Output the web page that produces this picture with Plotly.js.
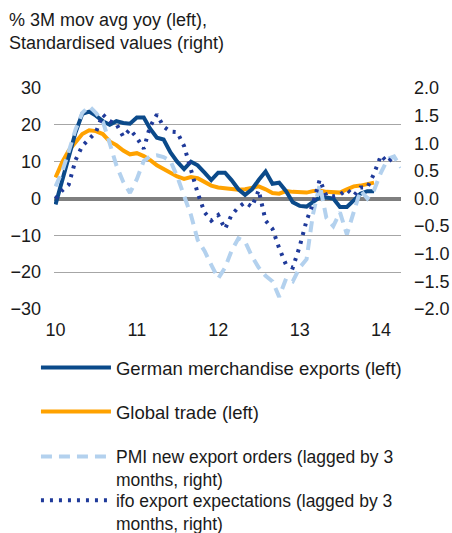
<!DOCTYPE html>
<html>
<head>
<meta charset="utf-8">
<script src="https://cdn.plot.ly/plotly-3.0.1.min.js"></script>
<style>html,body{margin:0;padding:0;background:#fff;}#chart{width:452px;height:533px;}</style>
</head>
<body>
<div id="chart"></div>
<script>
// Monthly observations starting January 2010
var startYear = 2010;
var germanExports = [-1.6, 5, 11, 18, 23, 23.6, 22.5, 21, 20, 21, 20.5, 20.3, 22, 22, 19, 16.5, 16, 12.5, 10, 8, 10, 9, 7, 5, 7, 7, 5, 2.5, 1, 2.5, 5, 7.3, 4, 4.3, 2, -1, -2, -2.2, -1, 0.3, 0.3, 0, -2.3, -2.3, -0.5, 1.3, 2, 2];
var globalTrade = [5.7, 10, 13, 15.5, 17.5, 18.5, 18.3, 17.5, 15.5, 14.5, 13, 12, 12.3, 11.5, 10.5, 9, 8, 7, 6, 5.3, 5.8, 5.5, 4.5, 3.5, 3, 2.8, 2.5, 2.4, 2.5, 3, 3.3, 2.5, 1.5, 1.3, 2, 1.8, 1.6, 1.6, 2, 2.2, 1.8, 1.6, 1.6, 2.5, 3.3, 3.5, 3.8, 4.3];
var pmiOrders = [0.22, 0.5, 0.85, 1.25, 1.55, 1.67, 1.55, 1.4, 1.0, 0.6, 0.3, 0.1, 0.35, 0.68, 0.76, 0.78, 0.75, 0.68, 0.4, 0.05, -0.3, -0.75, -0.95, -1.2, -1.45, -1.25, -0.95, -0.72, -0.78, -1.05, -1.25, -1.4, -1.5, -1.78, -1.45, -1.5, -1.25, -1.1, -0.3, 0.25, -0.35, -0.5, -0.25, -0.65, -0.25, 0.15, 0.0, 0.15, 0.47, 0.72, 0.76, 0.56];
var ifoExpectations = [0.0, 0.15, 0.25, 0.7, 0.95, 1.07, 1.2, 1.52, 1.4, 1.35, 1.12, 1.25, 1.1, 0.9, 1.3, 1.52, 1.3, 1.21, 1.2, 0.95, 0.5, 0.1, -0.25, -0.4, -0.3, -0.55, -0.3, -0.16, -0.07, -0.15, 0.15, -0.4, -0.55, -0.9, -1.2, -1.25, -0.87, -0.4, -0.1, 0.34, 0.05, 0.04, 0.07, 0.16, 0.05, 0.2, 0.2, 0.45, 0.78, 0.65, 0.78];
var seriesNames = [
  'German merchandise exports (left)',
  'Global trade (left)',
  'PMI new export orders (lagged by 3<br>months, right)',
  'ifo export expectations (lagged by 3<br>months, right)'
];
var chartTitle = '% 3M mov avg yoy (left),<br>Standardised values (right)';
var leftTicks = [-30, -20, -10, 0, 10, 20, 30];
var rightTicks = [-2.0, -1.5, -1.0, -0.5, 0.0, 0.5, 1.0, 1.5, 2.0];

function monthDates(n) {
  var out = [];
  for (var i = 0; i < n; i++) {
    var y = startYear + Math.floor(i / 12);
    var m = (i % 12) + 1;
    out.push(y + '-' + (m < 10 ? '0' + m : m) + '-01');
  }
  return out;
}

var font = '"Liberation Sans", Arial, sans-serif';
var txt = '#1a1a1a';
var traces = [
  {x: monthDates(germanExports.length), y: germanExports, name: seriesNames[0], type: 'scatter', mode: 'lines',
   line: {color: '#0b4a8a', width: 4}, yaxis: 'y', legend: 'legend'},
  {x: monthDates(globalTrade.length), y: globalTrade, name: seriesNames[1], type: 'scatter', mode: 'lines',
   line: {color: '#ffa200', width: 4}, yaxis: 'y', legend: 'legend2'},
  {x: monthDates(pmiOrders.length), y: pmiOrders, name: seriesNames[2], type: 'scatter', mode: 'lines',
   line: {color: '#b3d1ee', width: 4, dash: '11px,7px'}, yaxis: 'y2', legend: 'legend3'},
  {x: monthDates(ifoExpectations.length), y: ifoExpectations, name: seriesNames[3], type: 'scatter', mode: 'lines',
   line: {color: '#1f3a9a', width: 4, dash: '3px,6px'}, yaxis: 'y2', legend: 'legend4'}
];
var data = [traces[2], traces[1], traces[0], traces[3]];

function leg(y, size) {
  return {orientation: 'v', x: -0.052, xanchor: 'left', y: y, yanchor: 'top', itemwidth: 70, valign: 'top',
          borderwidth: 0, font: {family: font, size: size, color: txt}, bgcolor: 'rgba(0,0,0,0)'};
}

var layout = {
  width: 452, height: 533,
  margin: {l: 54, r: 51, t: 88, b: 224, autoexpand: false},
  paper_bgcolor: '#fff', plot_bgcolor: '#fff',
  font: {family: font, size: 18, color: txt},
  showlegend: true,
  legend: leg(-0.181, 18.5), legend2: leg(-0.380, 18.5), legend3: leg(-0.586, 17.5), legend4: leg(-0.785, 17.5),
  annotations: [{text: chartTitle, xref: 'paper', yref: 'paper', x: -0.136, y: 1.362, xanchor: 'left', yanchor: 'top',
                 align: 'left', showarrow: false, font: {family: font, size: 18, color: txt}}],
  xaxis: {type: 'date', range: ['2009-12-25', '2014-04-01'], tick0: '2010-01-01', dtick: 'M12', tickformat: '%y',
          showgrid: false, zeroline: false, showline: false, ticks: '', ticklabelstandoff: 8, tickfont: {size: 18}},
  yaxis: {range: [-30, 30], tickvals: leftTicks, showgrid: true, gridcolor: '#a6a6a6', gridwidth: 1,
          zeroline: true, zerolinecolor: '#7f7f7f', zerolinewidth: 4, showline: false, ticks: '',
          ticklabelstandoff: 12, tickfont: {size: 18}},
  yaxis2: {range: [-2, 2], tickvals: rightTicks, tickformat: '.1f', overlaying: 'y', side: 'right', showgrid: false,
           zeroline: false, showline: false, ticks: '', ticklabelstandoff: 12, tickfont: {size: 18}}
};
Plotly.newPlot('chart', data, layout, {displayModeBar: false, staticPlot: true});
</script>
</body>
</html>
